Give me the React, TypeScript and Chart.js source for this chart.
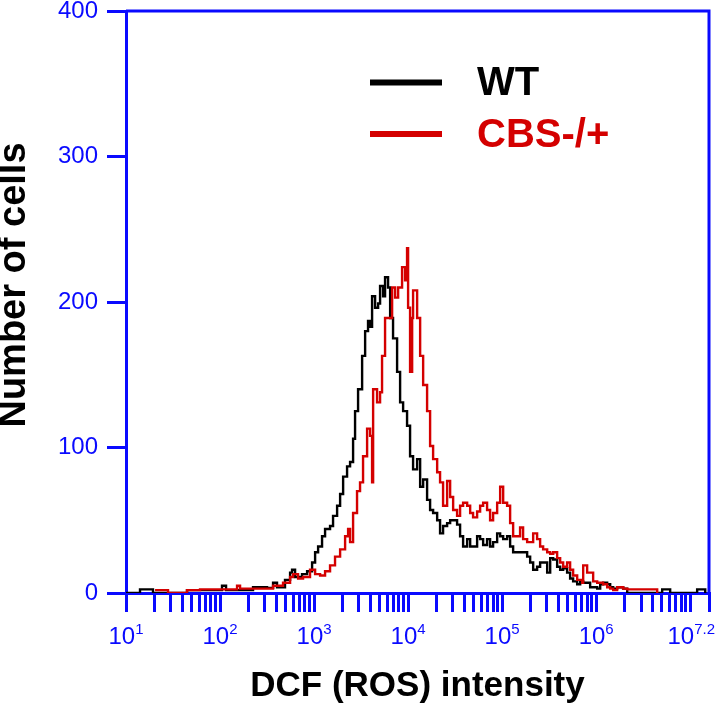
import React, { useEffect, useRef } from 'react';
import { Chart, registerables } from 'chart.js';

Chart.register(...registerables);

// ---------- data (x as log10 of DCF intensity, y as cell counts) ----------
const seriesNames = ['WT', 'CBS-/+'];

const wtLogX = [
  1.0, 1.149, 1.287, 1.649, 2.021, 2.064, 2.351, 2.5, 2.564, 2.606,
  2.691, 2.745, 2.766, 2.798, 2.872, 2.926, 2.979, 3.011, 3.043, 3.085,
  3.117, 3.170, 3.202, 3.245, 3.277, 3.309, 3.351, 3.383, 3.415, 3.436,
  3.468, 3.511, 3.543, 3.574, 3.596, 3.617, 3.649, 3.681, 3.702, 3.734,
  3.755, 3.787, 3.809, 3.840, 3.883, 3.915, 3.947, 3.989, 4.021, 4.053,
  4.096, 4.128, 4.160, 4.202, 4.234, 4.266, 4.309, 4.340, 4.372, 4.415,
  4.447, 4.479, 4.521, 4.553, 4.585, 4.628, 4.660, 4.691, 4.734, 4.766,
  4.798, 4.840, 4.872, 4.904, 4.947, 4.979, 5.011, 5.053, 5.085, 5.117,
  5.160, 5.191, 5.223, 5.266, 5.298, 5.330, 5.372, 5.404, 5.436, 5.479,
  5.511, 5.543, 5.585, 5.617, 5.649, 5.691, 5.723, 5.755, 5.798, 5.830,
  5.862, 5.904, 5.936, 5.968, 6.011, 6.043, 6.074, 6.117, 6.149, 6.181,
  6.223, 6.287, 6.330, 6.702, 6.787, 7.074, 7.160,
];
const wtCounts = [
  0, 2.5, 0, 2, 5, 2, 4, 3.5, 7, 4,
  9, 14, 16, 11, 13, 15, 21, 28, 32, 39,
  44, 46, 53, 60, 68, 80, 87, 90, 106, 125,
  140, 163, 180, 187, 183, 204, 196, 199, 211, 204,
  217, 210, 189, 175, 152, 131, 125, 115, 94, 85,
  92, 73, 78, 64, 57, 55, 50, 41, 46, 48,
  50, 50, 47, 39, 32, 37, 32, 32, 39, 37,
  33, 37, 32, 35, 41, 39, 37, 39, 32, 28,
  28, 28, 28, 25, 21, 16, 18, 21, 21, 14,
  24, 23, 18, 16, 17, 14, 10, 8, 6, 8,
  7, 7, 4, 4, 3, 6, 7, 6, 4, 3,
  4, 3, 0, 2.5, 0, 2.5, 0,
];

const cbsLogX = [
  1.309, 1.447, 1.649, 1.787, 2.181, 2.213, 2.426, 2.564, 2.670, 2.745,
  2.777, 2.830, 2.883, 2.957, 3.011, 3.064, 3.117, 3.170, 3.223, 3.277,
  3.330, 3.362, 3.383, 3.415, 3.457, 3.489, 3.521, 3.564, 3.596, 3.617,
  3.628, 3.670, 3.702, 3.723, 3.755, 3.787, 3.830, 3.862, 3.894, 3.936,
  3.968, 3.989, 4.000, 4.021, 4.043, 4.053, 4.096, 4.128, 4.160, 4.202,
  4.234, 4.266, 4.309, 4.340, 4.372, 4.415, 4.447, 4.479, 4.521, 4.553,
  4.585, 4.628, 4.660, 4.691, 4.734, 4.766, 4.798, 4.840, 4.872, 4.904,
  4.947, 4.979, 5.011, 5.053, 5.085, 5.117, 5.160, 5.191, 5.223, 5.266,
  5.298, 5.330, 5.372, 5.404, 5.436, 5.479, 5.511, 5.543, 5.585, 5.617,
  5.649, 5.691, 5.723, 5.755, 5.798, 5.851, 5.862, 5.904, 5.936, 5.968,
  6.011, 6.043, 6.074, 6.117, 6.149, 6.181, 6.223, 6.287, 6.330, 6.649,
];
const cbsCounts = [
  2, 0, 2, 2.5, 5, 3, 3, 5, 7, 11,
  13, 10, 11, 16, 13, 12, 15, 19, 25, 30,
  39, 44, 35, 55, 70, 76, 94, 113, 108, 76,
  140, 131, 138, 163, 189, 189, 210, 203, 210, 224,
  215, 237, 196, 152, 189, 208, 189, 163, 143, 125,
  101, 92, 83, 76, 60, 77, 66, 57, 53, 60,
  62, 60, 55, 52, 56, 60, 62, 57, 50, 55,
  62, 73, 62, 60, 48, 39, 39, 45, 37, 35,
  35, 41, 37, 32, 30, 28, 27, 28, 24, 21,
  18, 21, 16, 12, 9, 7, 19, 14, 14, 8,
  7, 7, 6, 4, 3, 2, 4, 3, 2.5, 0,
];

// axis definitions
const xMinExp = 1;
const xMaxExp = 7.2;
const xLabelExps = ['1', '2', '3', '4', '5', '6', '7.2'];
const xMinorMultipliers = [1, 2, 3, 4, 5, 6, 7, 8, 9];
const yMin = 0;
const yMax = 400;
const yStep = 100;

const xTitle = 'DCF (ROS) intensity';
const yTitle = 'Number of cells';

const BLUE = '#0a0aff';
const RED = '#d40000';
const BLACK = '#000000';
const FONT = 'Arial, "Liberation Sans", Helvetica, sans-serif';

export default function App() {
  const ref = useRef<HTMLCanvasElement>(null);

  useEffect(() => {
    const canvas = ref.current;
    if (!canvas) return;

    const wtData = wtLogX.map((e, i) => ({ x: Math.pow(10, e), y: wtCounts[i] }));
    const cbsData = cbsLogX.map((e, i) => ({ x: Math.pow(10, e), y: cbsCounts[i] }));

    const tickValues: number[] = [];
    for (let d = Math.floor(xMinExp); d < Math.ceil(xMaxExp); d++) {
      for (const m of xMinorMultipliers) {
        const v = m * Math.pow(10, d);
        if (v >= Math.pow(10, xMinExp) && v <= Math.pow(10, xMaxExp)) tickValues.push(v);
      }
    }
    tickValues.push(Math.pow(10, xMaxExp));

    const decorPlugin = {
      id: 'decor',
      afterDraw(chart: any) {
        const ctx = chart.ctx as CanvasRenderingContext2D;
        const area = chart.chartArea;
        const xs = chart.scales.x;
        ctx.save();
        // top and right frame
        ctx.strokeStyle = BLUE;
        ctx.lineWidth = 3;
        ctx.beginPath();
        ctx.moveTo(area.left, area.top);
        ctx.lineTo(area.right, area.top);
        ctx.lineTo(area.right, area.bottom);
        ctx.stroke();

        // x tick labels 10^n
        ctx.fillStyle = BLUE;
        ctx.textBaseline = 'alphabetic';
        ctx.textAlign = 'left';
        xLabelExps.forEach((ex, i) => {
          const px = xs.getPixelForValue(Math.pow(10, parseFloat(ex)));
          ctx.font = `24px ${FONT}`;
          const w1 = ctx.measureText('10').width;
          ctx.font = `15px ${FONT}`;
          const w2 = ctx.measureText(ex).width;
          const total = w1 + w2;
          const start = i === xLabelExps.length - 1 ? px + 6 - total : px - total / 2;
          ctx.font = `24px ${FONT}`;
          ctx.fillText('10', start, 644);
          ctx.font = `15px ${FONT}`;
          ctx.fillText(ex, start + w1, 634);
        });

        // y title
        ctx.save();
        ctx.translate(14.5, 285);
        ctx.rotate(-Math.PI / 2);
        ctx.font = `bold 38px ${FONT}`;
        ctx.fillStyle = BLACK;
        ctx.textAlign = 'center';
        ctx.textBaseline = 'middle';
        ctx.fillText(yTitle, 0, 0);
        ctx.restore();

        // legend
        const items = [
          { name: seriesNames[0], color: BLACK, lineY: 82.5, textY: 95 },
          { name: seriesNames[1], color: RED, lineY: 134, textY: 147 },
        ];
        items.forEach((it) => {
          ctx.strokeStyle = it.color;
          ctx.lineWidth = 6;
          ctx.beginPath();
          ctx.moveTo(370, it.lineY);
          ctx.lineTo(442, it.lineY);
          ctx.stroke();
          ctx.fillStyle = it.color;
          ctx.font = `bold 40px ${FONT}`;
          ctx.textAlign = 'left';
          ctx.textBaseline = 'alphabetic';
          ctx.fillText(it.name, 477, it.textY);
        });
        ctx.restore();
      },
    };

    const chart = new Chart(canvas, {
      type: 'line',
      data: {
        datasets: [
          {
            label: seriesNames[1],
            data: cbsData,
            borderColor: RED,
            borderWidth: 2.4,
            stepped: true,
            pointRadius: 0,
            fill: false,
          },
          {
            label: seriesNames[0],
            data: wtData,
            borderColor: BLACK,
            borderWidth: 2.4,
            stepped: true,
            pointRadius: 0,
            fill: false,
          },
        ],
      },
      options: {
        responsive: false,
        animation: false,
        parsing: true,
        layout: { padding: { top: 11, right: 11, left: 0, bottom: 0 } },
        plugins: {
          legend: { display: false },
          tooltip: { enabled: false },
        },
        scales: {
          x: {
            type: 'logarithmic',
            min: Math.pow(10, xMinExp),
            max: Math.pow(10, xMaxExp),
            bounds: 'data',
            afterBuildTicks: (scale: any) => {
              scale.ticks = tickValues.map((v) => ({ value: v }));
            },
            afterFit: (scale: any) => {
              scale.height = 115;
              scale.paddingLeft = 0;
              scale.paddingRight = 0;
            },
            ticks: { display: false },
            grid: {
              drawOnChartArea: false,
              drawTicks: true,
              tickLength: 19,
              color: BLUE,
              lineWidth: 3,
            },
            border: { display: true, color: BLUE, width: 3 },
            title: {
              display: true,
              text: xTitle,
              color: BLACK,
              font: { family: FONT, size: 35, weight: 'bold', lineHeight: 1.2 },
              padding: { top: 0, bottom: 1 },
            },
          },
          y: {
            type: 'linear',
            min: yMin,
            max: yMax,
            afterFit: (scale: any) => {
              scale.width = 126;
              scale.paddingTop = 0;
              scale.paddingBottom = 0;
            },
            ticks: {
              stepSize: yStep,
              color: BLUE,
              padding: 9,
              font: { family: FONT, size: 24, lineHeight: 1 },
            },
            grid: {
              drawOnChartArea: false,
              drawTicks: true,
              tickLength: 19,
              color: BLUE,
              lineWidth: 3,
            },
            border: { display: true, color: BLUE, width: 3 },
          },
        },
      },
      plugins: [decorPlugin],
    } as any);

    return () => chart.destroy();
  }, []);

  return (
    <div style={{ position: 'fixed', left: 0, top: 0, width: 720, height: 708, background: '#fff' }}>
      <canvas ref={ref} width={720} height={708} style={{ display: 'block', width: 720, height: 708 }} />
    </div>
  );
}
